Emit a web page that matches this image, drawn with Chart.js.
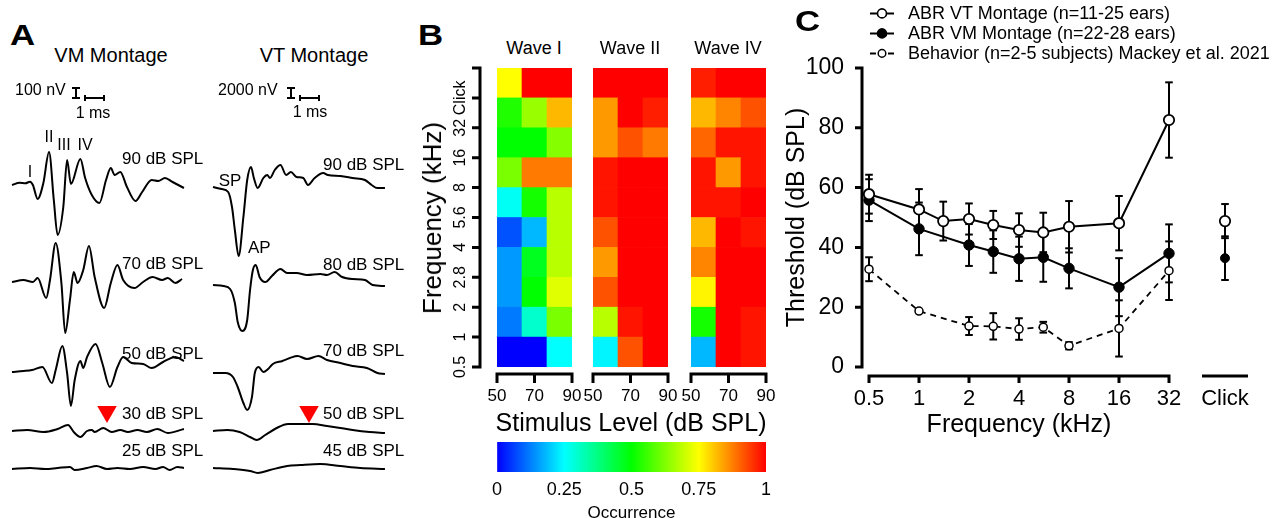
<!DOCTYPE html>
<html>
<head>
<meta charset="utf-8">
<script src="https://cdn.jsdelivr.net/npm/chart.js@4.4.1/dist/chart.umd.min.js"></script>
<style>
  body { margin: 0; background: #fff; font-family: 'Liberation Sans', Arial, sans-serif; }
  #fig { position: relative; width: 1283px; height: 518px; overflow: hidden; background: #fff; }
  canvas { position: absolute; }
  .t { position: absolute; white-space: nowrap; line-height: 1; color: #000; }
  .c { transform: translate(-50%, -50%); }
  .l { transform: translate(0, -50%); }
  .r90 { transform: translate(-50%, -50%) rotate(-90deg); }
  .panel { font-weight: bold; font-size: 29px; transform: translate(0, -50%) scaleX(1.2); transform-origin: left center; }
  .leg svg { vertical-align: middle; }
  .leg span { margin-left: 14px; vertical-align: middle; }
</style>
</head>
<body>
<div id="fig">
  <!-- panel A -->
  <canvas id="vmChart" width="200" height="410" style="left:0px;top:80px"></canvas>
  <canvas id="vtChart" width="200" height="410" style="left:200px;top:80px"></canvas>
  <div class="t panel" style="left:10px;top:35px">A</div>
  <div class="t c" style="left:111px;top:55px;font-size:20px">VM Montage</div>
  <div class="t c" style="left:314px;top:55px;font-size:20px">VT Montage</div>
  <div class="t l" style="left:15px;top:90px;font-size:16px">100 nV</div>
  <div class="t c" style="left:93px;top:113px;font-size:16px">1 ms</div>
  <div class="t l" style="left:218px;top:90px;font-size:16px">2000 nV</div>
  <div class="t c" style="left:310px;top:112px;font-size:16px">1 ms</div>
  <div class="t c" style="left:30px;top:172px;font-size:16px">I</div>
  <div class="t c" style="left:49px;top:137px;font-size:16px">II</div>
  <div class="t c" style="left:64px;top:145px;font-size:16px">III</div>
  <div class="t c" style="left:85px;top:145px;font-size:16px">IV</div>
  <div class="t c" style="left:230px;top:180px;font-size:17px">SP</div>
  <div class="t l" style="left:248px;top:247px;font-size:17px">AP</div>
  <div class="t l" style="left:122px;top:158px;font-size:17px">90 dB SPL</div>
  <div class="t l" style="left:122px;top:263px;font-size:17px">70 dB SPL</div>
  <div class="t l" style="left:122px;top:353px;font-size:17px">50 dB SPL</div>
  <div class="t l" style="left:122px;top:413px;font-size:17px">30 dB SPL</div>
  <div class="t l" style="left:122px;top:450px;font-size:17px">25 dB SPL</div>
  <div class="t l" style="left:323px;top:164px;font-size:17px">90 dB SPL</div>
  <div class="t l" style="left:323px;top:264px;font-size:17px">80 dB SPL</div>
  <div class="t l" style="left:323px;top:350px;font-size:17px">70 dB SPL</div>
  <div class="t l" style="left:323px;top:413px;font-size:17px">50 dB SPL</div>
  <div class="t l" style="left:323px;top:450px;font-size:17px">45 dB SPL</div>

  <!-- panel B -->
  <canvas id="heatI" width="174" height="358" style="left:410px;top:60px"></canvas>
  <canvas id="heatII" width="99" height="358" style="left:581px;top:60px"></canvas>
  <canvas id="heatIV" width="99" height="358" style="left:679px;top:60px"></canvas>
  <canvas id="cbar" width="306" height="100" style="left:480px;top:430px"></canvas>
  <div class="t panel" style="left:418px;top:35px">B</div>
  <div class="t c" style="left:534px;top:48px;font-size:18px">Wave I</div>
  <div class="t c" style="left:630px;top:48px;font-size:18px">Wave II</div>
  <div class="t c" style="left:728px;top:48px;font-size:18px">Wave IV</div>
  <div class="t r90" style="left:432px;top:218px;font-size:26px">Frequency (kHz)</div>
  <div class="t c" style="left:631px;top:422px;font-size:25px">Stimulus Level (dB SPL)</div>

  <!-- panel C -->
  <canvas id="thrChart" width="503" height="518" style="left:780px;top:0px"></canvas>
  <div class="t panel" style="left:795px;top:21px">C</div>
  <div class="t l leg" style="left:870px;top:13px;font-size:18px"><svg width="24" height="12"><line x1="0" y1="6" x2="24" y2="6" stroke="#000" stroke-width="2"/><circle cx="12" cy="6" r="4.5" fill="#fff" stroke="#000" stroke-width="1.6"/></svg><span>ABR VT Montage (n=11-25 ears)</span></div>
  <div class="t l leg" style="left:870px;top:33px;font-size:18px"><svg width="24" height="12"><line x1="0" y1="6" x2="24" y2="6" stroke="#000" stroke-width="2"/><circle cx="12" cy="6" r="4.5" fill="#000" stroke="#000" stroke-width="1.6"/></svg><span>ABR VM Montage (n=22-28 ears)</span></div>
  <div class="t l leg" style="left:870px;top:53px;font-size:18px"><svg width="24" height="12"><line x1="0" y1="6" x2="6" y2="6" stroke="#000" stroke-width="2"/><line x1="18" y1="6" x2="24" y2="6" stroke="#000" stroke-width="2"/><circle cx="12" cy="6" r="3.8" fill="#fff" stroke="#000" stroke-width="1.5"/></svg><span>Behavior (n=2-5 subjects) Mackey et al. 2021</span></div>
  <div class="t c" style="left:1019px;top:423px;font-size:25px">Frequency (kHz)</div>
</div>

<script>
// ---------- Panel A: ABR traces, [time ms, amplitude nV] relative to each trace's baseline
const vm90 = [[0,-20],[0.4,3],[0.7,-3],[0.95,13],[1.1,-20],[1.35,-160],[1.65,0],[1.95,310],[2.2,-170],[2.4,-520],[2.7,-240],[2.9,230],[3.1,-10],[3.6,240],[3.85,50],[4.2,-120],[4.6,-200],[4.95,30],[5.2,150],[5.4,80],[5.7,110],[6.05,-40],[6.5,-180],[6.85,-90],[7.35,30],[7.7,20],[8.05,50],[8.45,10],[9.05,-50]];
const vm70 = [[0,0],[0.6,20],[1.1,0],[1.35,40],[1.8,-160],[2.0,20],[2.3,390],[2.6,-10],[2.8,-510],[3.05,-180],[3.25,100],[3.45,-10],[3.75,120],[4.05,360],[4.35,50],[4.85,-260],[5.2,-10],[5.55,170],[5.85,20],[6.45,-60],[6.9,0],[7.4,50],[7.9,20],[8.2,40],[8.6,-10],[8.95,30]];
const vm50 = [[0,0],[0.6,10],[1.05,20],[1.6,50],[2.1,-110],[2.3,20],[2.65,260],[2.9,-10],[3.1,-340],[3.3,-80],[3.6,110],[3.75,40],[3.95,150],[4.4,280],[4.75,90],[5.15,-150],[5.55,50],[5.85,150],[6.3,90],[6.9,80],[7.35,40],[7.95,100],[8.6,150],[9.05,110]];
const vm30 = [[0,0],[0.8,10],[1.65,-10],[2.4,20],[2.95,60],[3.25,-10],[3.6,-60],[3.95,0],[4.2,10],[4.35,-10],[4.8,30],[5.25,-10],[5.7,10],[6.1,-10],[6.6,10],[7.1,-10],[7.65,20],[8.2,-20],[9.05,20]];
const vm25 = [[0,0],[0.95,10],[1.75,0],[2.4,10],[3.05,20],[3.3,-10],[3.95,10],[4.45,30],[5.0,0],[5.55,10],[6.2,0],[6.9,20],[7.55,0],[7.95,20],[8.3,-10],[8.7,20],[9.05,10]];

const vt90 = [[0,0],[0.45,-400],[0.8,-1000],[1.0,-4000],[1.15,-8600],[1.35,-13800],[1.6,-6000],[1.8,1400],[2.0,4000],[2.15,1800],[2.35,-200],[2.65,1800],[2.85,2400],[3.0,1800],[3.25,3400],[3.55,4400],[3.85,2400],[4.1,3000],[4.4,2000],[4.75,1800],[5.0,400],[5.35,1800],[5.8,2800],[6.05,2400],[6.7,2200],[7.35,1800],[8.0,1400],[8.35,400],[8.65,-200],[9.05,-200]];
const vt80 = [[0,0],[0.55,-200],[0.9,-800],[1.15,-3600],[1.3,-7400],[1.55,-9200],[1.8,-7000],[1.95,-1000],[2.1,3000],[2.25,4000],[2.45,1600],[2.75,600],[3.1,1800],[3.55,3200],[3.9,2400],[4.4,2400],[4.95,2000],[5.65,2200],[6.0,2000],[6.4,2600],[6.8,1600],[7.35,1200],[8.0,1000],[8.4,0],[9.05,-200]];
const vt70 = [[0,0],[0.65,0],[1.05,-800],[1.3,-2800],[1.6,-6000],[1.8,-7400],[2.05,-4800],[2.2,0],[2.4,1200],[2.65,200],[2.9,800],[3.15,1800],[3.65,2400],[4.05,3000],[4.45,3400],[4.95,2800],[5.55,3400],[6.0,2600],[6.7,2000],[7.35,1400],[8.1,1000],[8.65,0],[9.05,-200]];
const vt50 = [[0,0],[0.75,200],[1.4,-200],[1.95,-1200],[2.3,-1800],[2.75,-800],[3.35,600],[3.95,1400],[4.6,1400],[5.25,1400],[6.0,1000],[6.7,600],[7.35,200],[8.25,-200],[9.05,-400]];
const vt45 = [[0,0],[1.05,-200],[1.95,-600],[2.35,-1000],[3.0,-400],[3.9,400],[4.6,600],[5.65,800],[6.7,400],[7.75,0],[9.05,-200]];

const vmScaleNv = 100;   // amplitude scale bar
const vtScaleNv = 2000;
const scaleMs = 1;       // time scale bar

// ---------- Panel B: occurrence of waves, rows bottom -> top, columns = stimulus levels
const freqRows = ['0.5', '1', '2', '2.8', '4', '5.6', '8', '16', '32', 'Click'];
const levels = [50, 70, 90];
const waveI = [
  [0.0, 0.0, 0.25], [0.12, 0.3, 0.62], [0.15, 0.5, 0.72], [0.15, 0.47, 0.68], [0.08, 0.18, 0.68],
  [0.26, 0.52, 0.68], [0.62, 0.88, 0.88], [0.5, 0.5, 0.63], [0.53, 0.65, 0.82], [0.75, 1, 1]
];
const waveII = [
  [0.24, 0.92, 1], [0.68, 0.98, 1], [0.92, 1, 1], [0.85, 1, 1], [0.92, 1, 1],
  [0.98, 1, 1], [0.98, 1, 1], [0.85, 0.92, 0.88], [0.85, 1, 0.97], [1, 1, 1]
];
const waveIV = [
  [0.18, 1, 0.98], [0.52, 1, 0.98], [0.76, 1, 1], [0.87, 1, 1], [0.82, 1, 0.98],
  [0.98, 0.98, 1], [0.98, 0.85, 0.98], [0.9, 0.98, 0.98], [0.82, 0.87, 0.92], [0.97, 1, 1]
];
const occRange = [0, 1];

// ---------- Panel C: thresholds (dB SPL), mean and SD
const freqTicks = [0.5, 1, 2, 4, 8, 16, 32];
const vtFreq = [0.5, 1, 1.4, 2, 2.8, 4, 5.6, 8, 16, 32];
const vtMean = [57.8, 52.7, 48.8, 49.5, 47.5, 45.8, 45.0, 46.9, 48.1, 82.6];
const vtSd   = [6.5, 6.8, 6.5, 5.2, 4.7, 5.6, 6.6, 8.6, 9.1, 12.6];
const vmFreq = [0.5, 1, 2, 2.8, 4, 5.6, 8, 16, 32];
const vmMean = [55.8, 46.2, 40.8, 38.6, 36.2, 36.7, 33.0, 26.7, 38.0];
const vmSd   = [7.0, 8.8, 7.0, 7.1, 7.4, 8.2, 6.7, 9.7, 9.7];
const behFreq = [0.5, 1, 2, 2.8, 4, 5.6, 8, 16, 32];
const behMean = [32.7, 18.7, 13.7, 13.6, 12.7, 13.3, 7.1, 12.9, 32.2];
const behSd   = [4.0, 0, 3.0, 4.4, 3.6, 1.8, 1.2, 9.4, 9.8];
const vtClick = { mean: 48.8, sd: 5.7 };
const vmClick = { mean: 36.4, sd: 7.3 };

// ---------- layout / style
Chart.defaults.font.family = "'Liberation Sans', Arial, sans-serif";
Chart.defaults.color = '#000';
const FONT = "'Liberation Sans', Arial, sans-serif";
const PX_PER_MS = 19;
const CLICK_X = 6.12;   // position of the Click column on the log2 frequency axis

const jetStops = [[0, [0, 0, 255]], [0.25, [0, 255, 255]], [0.5, [0, 255, 0]], [0.75, [255, 255, 0]], [1, [255, 0, 0]]];
function jet(v) {
  for (let i = 1; i < jetStops.length; i++) {
    const [p1, c1] = jetStops[i];
    const [p0, c0] = jetStops[i - 1];
    if (v <= p1) {
      const f = (v - p0) / (p1 - p0);
      const c = c0.map((a, k) => Math.round(a + (c1[k] - a) * f));
      return `rgb(${c.join(',')})`;
    }
  }
  return 'rgb(255,0,0)';
}

// invisible tick marks: push the labels down without adding side padding
const hiddenTicks = len => ({ display: true, drawOnChartArea: false, drawTicks: true, tickLength: len, tickColor: 'rgba(0,0,0,0)' });

// R-style axes: axis line from first to last tick, set off from the plot
const rAxes = {
  id: 'rAxes',
  afterDraw(chart, args, o) {
    const { ctx, chartArea: a, scales } = chart;
    ctx.save();
    ctx.strokeStyle = '#000';
    ctx.fillStyle = '#000';
    ctx.lineWidth = o.lineWidth || 3;
    ctx.lineJoin = 'miter';
    if (o.x) {
      const y0 = a.bottom + o.x.gap, len = o.x.len;
      const px = o.x.ticks.map(v => scales.x.getPixelForValue(v));
      ctx.beginPath();
      ctx.moveTo(px[0], y0 + len);
      ctx.lineTo(px[0], y0);
      ctx.lineTo(px[px.length - 1], y0);
      ctx.lineTo(px[px.length - 1], y0 + len);
      px.slice(1, -1).forEach(p => { ctx.moveTo(p, y0); ctx.lineTo(p, y0 + len); });
      ctx.stroke();
      (o.x.bars || []).forEach(([v0, v1]) => {
        ctx.beginPath();
        ctx.moveTo(scales.x.getPixelForValue(v0), y0);
        ctx.lineTo(scales.x.getPixelForValue(v1), y0);
        ctx.stroke();
      });
    }
    if (o.y) {
      const x0 = a.left - o.y.gap, len = o.y.len;
      const py = o.y.ticks.map(v => scales.y.getPixelForValue(v));
      ctx.beginPath();
      ctx.moveTo(x0 - len, py[0]);
      ctx.lineTo(x0, py[0]);
      ctx.lineTo(x0, py[py.length - 1]);
      ctx.lineTo(x0 - len, py[py.length - 1]);
      py.slice(1, -1).forEach(p => { ctx.moveTo(x0, p); ctx.lineTo(x0 - len, p); });
      ctx.stroke();
      if (o.y.labels) {
        ctx.font = `${o.y.fontSize}px ${FONT}`;
        ctx.textAlign = 'center';
        ctx.textBaseline = 'middle';
        o.y.labels.forEach((t, i) => {
          ctx.save();
          ctx.translate(x0 - len - o.y.labelGap, py[i]);
          ctx.rotate(-Math.PI / 2);
          ctx.fillText(t, 0, 0);
          ctx.restore();
        });
      }
    }
    ctx.restore();
  }
};

const baseOpts = {
  responsive: false,
  animation: false,
  events: [],
  plugins: { legend: { display: false }, tooltip: { enabled: false } }
};

// ---------- Panel A charts
function traceChart(id, L, traces, bar, mark) {
  const toT = px => (px - L.left - L.t0) / PX_PER_MS;
  const toV = py => -(py - L.top) * L.nvPerPx;
  const line = { showLine: true, pointRadius: 0, borderColor: '#000', borderWidth: 2 };
  const datasets = traces.map((tr, i) => ({
    ...line,
    cubicInterpolationMode: 'monotone',
    data: tr.map(([t, v]) => ({ x: t, y: v + toV(L.base[i]) }))
  }));
  const bx = toT(bar.ix), by = toV(bar.iy);
  datasets.push({ ...line, pointStyle: 'line', pointRadius: 4, pointBorderWidth: 2,
    data: [{ x: bx, y: by }, { x: bx, y: by + bar.nv }] });
  const mx = toT(bar.mx), my = toV(bar.my);
  datasets.push({ ...line, pointStyle: 'line', pointRotation: 90, pointRadius: 3, pointBorderWidth: 2,
    data: [{ x: mx, y: my }, { x: mx + scaleMs, y: my }] });
  datasets.push({ showLine: false, pointStyle: 'triangle', rotation: 180, pointRadius: 11.3,
    backgroundColor: '#ff0000', borderWidth: 0, pointBorderWidth: 0,
    data: [{ x: toT(mark[0]), y: toV(mark[1]) }] });
  new Chart(document.getElementById(id), {
    type: 'scatter',
    data: { datasets },
    options: {
      ...baseOpts,
      layout: { padding: 0, autoPadding: false },
      scales: {
        x: { display: false, min: -L.t0 / PX_PER_MS, max: (L.w - L.t0) / PX_PER_MS },
        y: { display: false, min: -L.h * L.nvPerPx, max: 0 }
      }
    }
  });
}

traceChart('vmChart',
  { left: 0, top: 80, w: 200, h: 410, t0: 12, nvPerPx: 10, base: [183, 282, 372, 431, 469] },
  [vm90, vm70, vm50, vm30, vm25],
  { ix: 76, iy: 98, nv: vmScaleNv, mx: 85, my: 98 }, [107, 411.7]);
traceChart('vtChart',
  { left: 200, top: 80, w: 200, h: 410, t0: 13, nvPerPx: 200, base: [187, 285, 373, 431, 468] },
  [vt90, vt80, vt70, vt50, vt45],
  { ix: 291, iy: 98, nv: vtScaleNv, mx: 300, my: 98 }, [309, 411.7]);

// ---------- Panel B charts
function heatChart(id, values, pad, withY) {
  const step = (levels[levels.length - 1] - levels[0]) / levels.length;
  const centers = levels.map((_, j) => levels[0] + (j + 0.5) * step);
  const datasets = freqRows.map((f, r) => ({
    label: f,
    data: centers.map(x => ({ x, y: [r, r + 1] })),
    backgroundColor: values[r].map(jet),
    borderWidth: 0,
    grouped: false,
    barPercentage: 1,
    categoryPercentage: 1
  }));
  const axes = { lineWidth: 3, x: { gap: 7, len: 9, ticks: levels } };
  if (withY) {
    axes.y = { gap: 17, len: 8, ticks: freqRows.map((_, i) => i).concat(freqRows.length),
      labels: freqRows, fontSize: 16, labelGap: 11 };
  }
  new Chart(document.getElementById(id), {
    type: 'bar',
    data: { datasets },
    options: {
      ...baseOpts,
      plugins: { ...baseOpts.plugins, rAxes: axes },
      layout: { padding: pad, autoPadding: false },
      scales: {
        x: { type: 'linear', offset: false, min: levels[0], max: levels[levels.length - 1],
             grid: { ...hiddenTicks(19), offset: false }, border: { display: false },
             ticks: { stepSize: 20, padding: 0, autoSkip: false, maxRotation: 0, font: { size: 17 } },
             afterFit: s => { s.height = 51; } },
        y: { type: 'linear', display: false, min: 0, max: freqRows.length }
      }
    },
    plugins: [rAxes]
  });
}
heatChart('heatI', waveI, { left: 87, right: 12, top: 8, bottom: 0 }, true);
heatChart('heatII', waveII, { left: 12, right: 12, top: 8, bottom: 0 }, false);
heatChart('heatIV', waveIV, { left: 12, right: 12, top: 8, bottom: 0 }, false);

new Chart(document.getElementById('cbar'), {
  type: 'bar',
  data: {
    labels: [''],
    datasets: [{
      data: [occRange],
      barPercentage: 1,
      categoryPercentage: 1,
      borderWidth: 0,
      backgroundColor: c => {
        const a = c.chart.chartArea;
        if (!a) return null;
        const g = c.chart.ctx.createLinearGradient(a.left, 0, a.right, 0);
        jetStops.forEach(([p, rgb]) => g.addColorStop(p, `rgb(${rgb.join(',')})`));
        return g;
      }
    }]
  },
  options: {
    ...baseOpts,
    indexAxis: 'y',
    layout: { padding: { left: 17, right: 20, top: 12, bottom: 0 }, autoPadding: false },
    scales: {
      x: { type: 'linear', min: occRange[0], max: occRange[1],
           grid: hiddenTicks(7), border: { display: false },
           ticks: { stepSize: 0.25, padding: 0, maxRotation: 0, autoSkip: false, font: { size: 18 },
                    callback: v => String(v) },
           title: { display: true, text: 'Occurrence', font: { size: 17 }, padding: { top: 0, bottom: 6 } },
           afterFit: s => { s.height = 58; } },
      y: { display: false }
    }
  }
});

// ---------- Panel C chart
function pts(freqs, mean) {
  return freqs.map((f, i) => ({ x: Math.log2(f), y: mean[i] }));
}
function errs(xs, mean, sd) {
  const out = [];
  xs.forEach((x, i) => {
    out.push({ x, y: mean[i] - sd[i] }, { x, y: mean[i] + sd[i] }, { x, y: null });
  });
  return out;
}
const errStyle = { showLine: true, borderColor: '#000', borderWidth: 2, pointStyle: 'line',
  pointRadius: 3.8, pointBorderWidth: 2, pointBorderColor: '#000', spanGaps: false };
const openPt = { pointBackgroundColor: '#fff', pointBorderColor: '#000', pointBorderWidth: 1.8 };
const fullPt = { pointBackgroundColor: '#000', pointBorderColor: '#000', pointBorderWidth: 1 };

new Chart(document.getElementById('thrChart'), {
  type: 'scatter',
  data: {
    datasets: [
      { ...openPt, showLine: true, borderColor: '#000', borderWidth: 2, pointRadius: 5.2,
        data: pts(vtFreq, vtMean) },
      { ...openPt, showLine: false, pointRadius: 5.2, data: [{ x: CLICK_X, y: vtClick.mean }] },
      { ...fullPt, showLine: true, borderColor: '#000', borderWidth: 2, pointRadius: 5.2,
        data: pts(vmFreq, vmMean) },
      { ...fullPt, showLine: false, pointRadius: 4.5, data: [{ x: CLICK_X, y: vmClick.mean }] },
      { ...openPt, pointBorderWidth: 1.5, showLine: true, borderColor: '#000', borderWidth: 1.8,
        borderDash: [6, 5], pointRadius: 4, data: pts(behFreq, behMean) },
      { ...errStyle, data: errs(vtFreq.map(Math.log2), vtMean, vtSd) },
      { ...errStyle, data: errs(vmFreq.map(Math.log2), vmMean, vmSd) },
      { ...errStyle, data: errs(behFreq.map(Math.log2), behMean, behSd) },
      { ...errStyle, data: errs([CLICK_X], [vtClick.mean], [vtClick.sd]) },
      { ...errStyle, data: errs([CLICK_X], [vmClick.mean], [vmClick.sd]) }
    ]
  },
  options: {
    ...baseOpts,
    plugins: {
      ...baseOpts.plugins,
      rAxes: {
        lineWidth: 3,
        x: { gap: 9, len: 7, ticks: freqTicks.map(Math.log2), bars: [[CLICK_X - 0.46, CLICK_X + 0.46]] },
        y: { gap: 0, len: 7, ticks: [0, 20, 40, 60, 80, 100] }
      }
    },
    layout: { padding: { left: 0, top: 68, right: 34, bottom: 0 }, autoPadding: false },
    scales: {
      x: { type: 'linear', min: -1.14, max: 6.6,
           grid: hiddenTicks(19), border: { display: false },
           afterBuildTicks: s => { s.ticks = freqTicks.map(f => ({ value: Math.log2(f) })).concat({ value: CLICK_X }); },
           ticks: { autoSkip: false, maxRotation: 0, padding: 0, font: { size: 22 },
                    callback: (v, i) => freqTicks.map(String).concat('Click')[i] },
           afterFit: s => { s.height = 151; } },
      y: { min: 0, max: 100,
           grid: { display: false }, border: { display: false },
           ticks: { stepSize: 20, padding: 10, font: { size: 23 } },
           title: { display: true, text: 'Threshold (dB SPL)', font: { size: 25 }, padding: { top: 2, bottom: 0 } },
           afterFit: s => { s.width = 82; } }
    }
  },
  plugins: [rAxes]
});
</script>
</body>
</html>
